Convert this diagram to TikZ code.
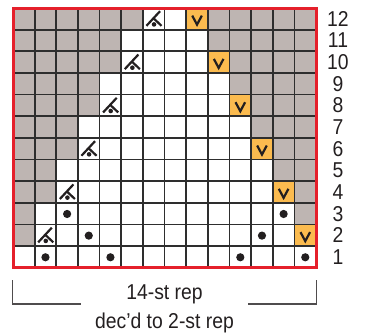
\documentclass[tikz,border=0pt]{standalone}
\usepackage{fontspec}
\setmainfont{Liberation Sans}[FakeStretch=0.9]
\definecolor{cellgray}{HTML}{BEB5B2}
\definecolor{vorange}{HTML}{FBBB4F}
\definecolor{borderred}{HTML}{E5202B}
\definecolor{gridline}{HTML}{2E2E2E}
\definecolor{ink}{HTML}{231F20}
\begin{document}
\begin{tikzpicture}[x=1pt,y=-1pt,
  gridrule/.style={draw=gridline,line width=1.7pt},
  frame/.style={draw=borderred,line width=3pt},
  symline/.style={draw=ink,line width=2.2pt},
  bracketline/.style={draw=ink!80,line width=1.1pt},
  rowlabel/.style={font=\fontsize{21.5}{21.5}\selectfont,text=ink,inner sep=0pt,anchor=center},
  replabel/.style={font=\fontsize{21.5}{21.5}\selectfont,text=ink,inner sep=0pt,anchor=base},
  decsym/.pic={
    \draw[symline] (6.3,-7.6) -- (-7.3,7);
    \draw[symline] (-0.4,-0.7) -- (7.8,7);
    \fill[ink] (0.3,5.6) circle (2.3);
  },
  vsym/.pic={
    \draw[symline,line join=miter] (-4.8,-3.2) -- (0,5.8) -- (4.8,-3.2);
  },
  dotsym/.pic={
    \fill[ink] (0,0.3) circle (4.1);
  }
]
\useasboundingbox (0,0) rectangle (365,333);
\pgfmathsetmacro{\cs}{21.65}
\def\gx{13}
\def\gy{8}
% white background of grid
\fill[white] (\gx,\gy) rectangle ({\gx+14*\cs},{\gy+12*\cs});
% gray cells
\foreach \r/\L/\R in {12/5/9,11/4/9,10/4/10,9/3/10,8/3/11,7/2/11,6/2/12,5/1/12,4/1/13,3/0/13,2/0/14,1/-1/14}{
  \fill[cellgray] (\gx,{\gy+(12-\r)*\cs}) rectangle ({\gx+(\L+1)*\cs},{\gy+(13-\r)*\cs});
  \fill[cellgray] ({\gx+\R*\cs},{\gy+(12-\r)*\cs}) rectangle ({\gx+14*\cs},{\gy+(13-\r)*\cs});
}
% orange cells
\foreach \r/\c in {12/8,10/9,8/10,6/11,4/12,2/13}{
  \fill[vorange] ({\gx+\c*\cs},{\gy+(12-\r)*\cs}) rectangle ({\gx+(\c+1)*\cs},{\gy+(13-\r)*\cs});
}
% grid lines
\foreach \i in {1,...,13}{
  \draw[gridrule] ({\gx+\i*\cs},\gy) -- ({\gx+\i*\cs},{\gy+12*\cs});
}
\foreach \j in {1,...,11}{
  \draw[gridrule] (\gx,{\gy+\j*\cs}) -- ({\gx+14*\cs},{\gy+\j*\cs});
}
\draw[frame] (\gx,\gy) rectangle ({\gx+14*\cs},{\gy+12*\cs});
% symbols
\foreach \r/\c in {12/6,10/5,8/4,6/3,4/2,2/1}{
  \pic at ({\gx+(\c+0.5)*\cs},{\gy+(12.5-\r)*\cs}) {decsym};
}
\foreach \r/\c in {12/8,10/9,8/10,6/11,4/12,2/13}{
  \pic at ({\gx+(\c+0.5)*\cs},{\gy+(12.5-\r)*\cs}) {vsym};
}
\foreach \r/\c in {3/2,3/12,2/3,2/11,1/1,1/4,1/10,1/13}{
  \pic at ({\gx+(\c+0.5)*\cs},{\gy+(12.5-\r)*\cs}) {dotsym};
}
% row labels
\foreach \r in {1,...,12}{
  \node[rowlabel] (row\r) at (338,{\gy+(12.5-\r)*\cs}) {\r};
}
% bottom labels
\node[replabel] (rep) at (164.5,299) {14-st rep};
\node[replabel] (dec) at (164.5,328) {dec’d to 2-st rep};
% bracket
\coordinate (bl1) at (12.7,280);
\coordinate (bl2) at (12.7,304);
\coordinate (bl3) at (81,304);
\coordinate (br1) at (316.7,280);
\coordinate (br2) at (316.7,304);
\coordinate (br3) at (248,304);
\draw[bracketline] (bl1) -- (bl2) -- (bl3);
\draw[bracketline] (br1) -- (br2) -- (br3);
\end{tikzpicture}
\end{document}
